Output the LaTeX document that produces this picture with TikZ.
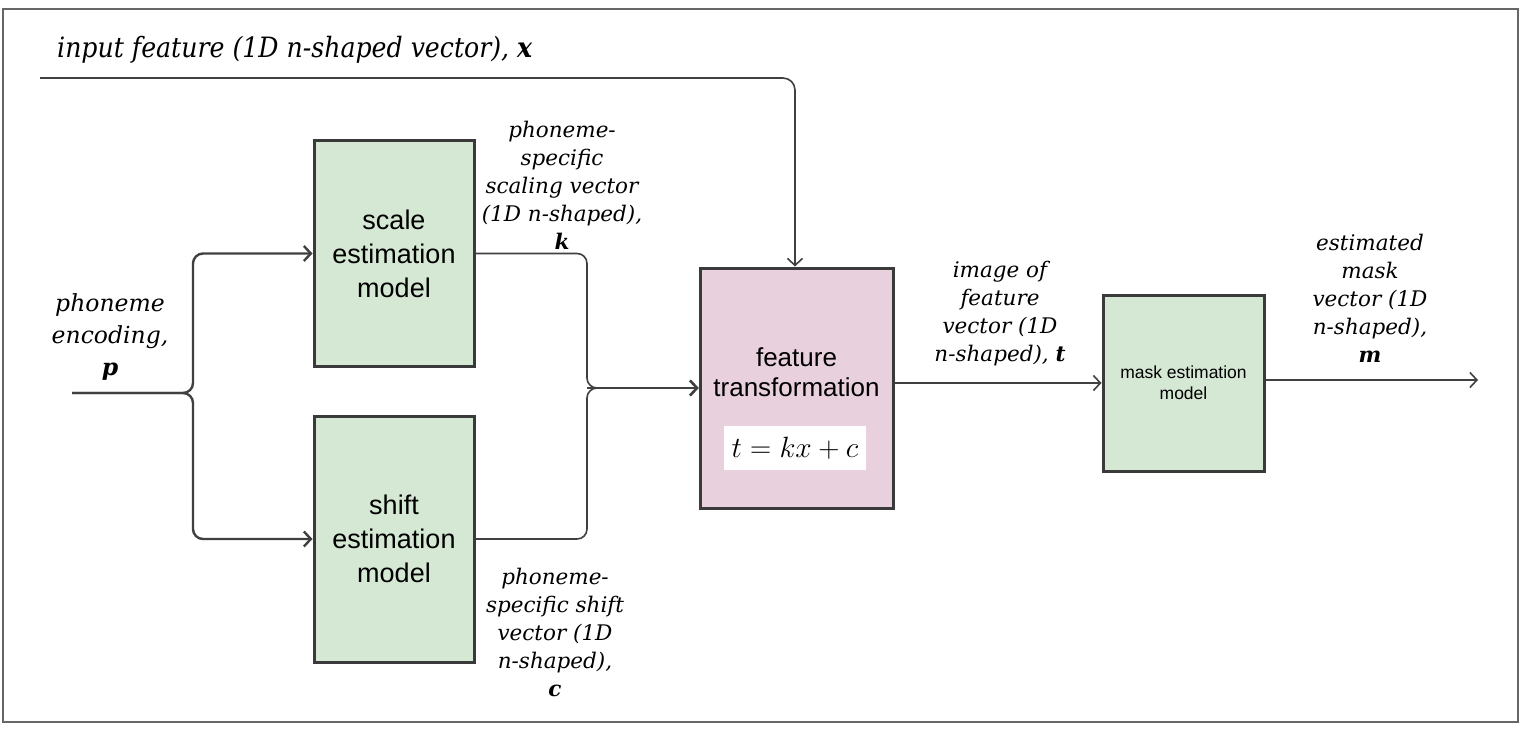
\documentclass[tikz,border=0pt]{standalone}
\usepackage{fontspec}
\setmainfont{DejaVu Serif}
\setsansfont{Liberation Sans}
\newfontfamily\condfont[FakeStretch=0.9]{DejaVu Serif}
\usetikzlibrary{arrows.meta}
\definecolor{boxgreen}{HTML}{D5E8D4}
\definecolor{boxpink}{HTML}{E8D0DD}
\definecolor{edge}{HTML}{3A3A3A}
\definecolor{wire}{HTML}{404040}
\newcommand{\bv}[1]{\textbf{\textit{#1}}}
\begin{document}
\begin{tikzpicture}[x=1pt,y=-1pt,
  modelbox/.style={draw=edge, line width=3pt, fill=boxgreen, inner sep=0pt, align=center,
    font=\sffamily\fontsize{27}{34}\selectfont},
  ftbox/.style={draw=edge, line width=3pt, fill=boxpink, inner sep=0pt},
  lbl/.style={align=center, inner sep=0pt, font=\itshape\fontsize{21.5}{28}\selectfont},
  ln/.style={draw=wire, line width=1.6pt},
  arr/.style={ln, -{Straight Barb[length=7pt,width=15pt]}},
  thick arr/.style={arr, line width=2.4pt}
]
\useasboundingbox (0,0) rectangle (1525,730);
\draw[draw=gray!80!black, line width=1.3pt] (3,9) rectangle (1518,722);

% boxes
\node[modelbox, minimum width=160pt, minimum height=225pt] (scale) at (394,253.5) {scale\\estimation\\model};
\node[modelbox, minimum width=160pt, minimum height=246pt] (shift) at (394,539) {shift\\estimation\\model};
\node[ftbox, minimum width=193pt, minimum height=240pt] (ft) at (796.5,388) {};
\node[align=center, inner sep=0pt, font=\sffamily\fontsize{26}{30}\selectfont] (fttext) at (796.5,372) {feature\\transformation};
\node[fill=white, minimum width=142pt, minimum height=44pt, inner sep=0pt, font=\fontsize{25}{30}\selectfont] (formula) at (795,448) {\scalebox{1.18}{$t = kx + c$}};
\node[modelbox, minimum width=161pt, minimum height=176pt, font=\sffamily\fontsize{17.5}{21}\selectfont] (mask) at (1183.5,383) {mask estimation\\model};

% labels
\node[anchor=west, inner sep=0pt, font=\condfont\itshape\fontsize{28}{30}\selectfont] (xlbl) at (57,50) {input feature (1D n-shaped vector), \bv{x}};
\node[lbl] (klbl) at (562,185) {phoneme-\\specific\\scaling vector\\(1D n-shaped),\\\bv{k}};
\node[lbl, font=\itshape\fontsize{23.5}{32}\selectfont] (plbl) at (110,337) {phoneme\\encoding,\\\bv{p}};
\node[lbl] (clbl) at (555,632) {phoneme-\\specific shift\\vector (1D\\n-shaped),\\\bv{c}};
\node[lbl] (tlbl) at (1000,314) {image of\\feature\\vector (1D\\n-shaped), \bv{t}};
\node[lbl] (mlbl) at (1370,298) {estimated\\mask\\vector (1D\\n-shaped),\\\bv{m}};

% coordinates
\coordinate (xin) at (40,78);
\coordinate (pin) at (72,393);
\coordinate (psplit) at (193,393);
\coordinate (merge) at (587,388);
\coordinate (mout) at (1478,380);

% connectors
\draw[arr, rounded corners=12pt] (xin) -| ([xshift=-1.5pt]ft.north);
\draw[thick arr, rounded corners=10pt] (pin) -- (psplit) |- (scale.west);
\draw[thick arr, rounded corners=10pt] (pin) -- (psplit) |- (shift.west);
\draw[arr, rounded corners=10pt] (scale.east) -| (merge) -- (ft.west);
\draw[arr, rounded corners=10pt] (shift.east) -| (merge) -- (ft.west);
\draw[thick arr] (merge) -- (ft.west);
\draw[arr] (mask.west -| ft.east) -- (mask.west);
\draw[arr] (mask.east |- mout) -- (mout);
\end{tikzpicture}
\end{document}
